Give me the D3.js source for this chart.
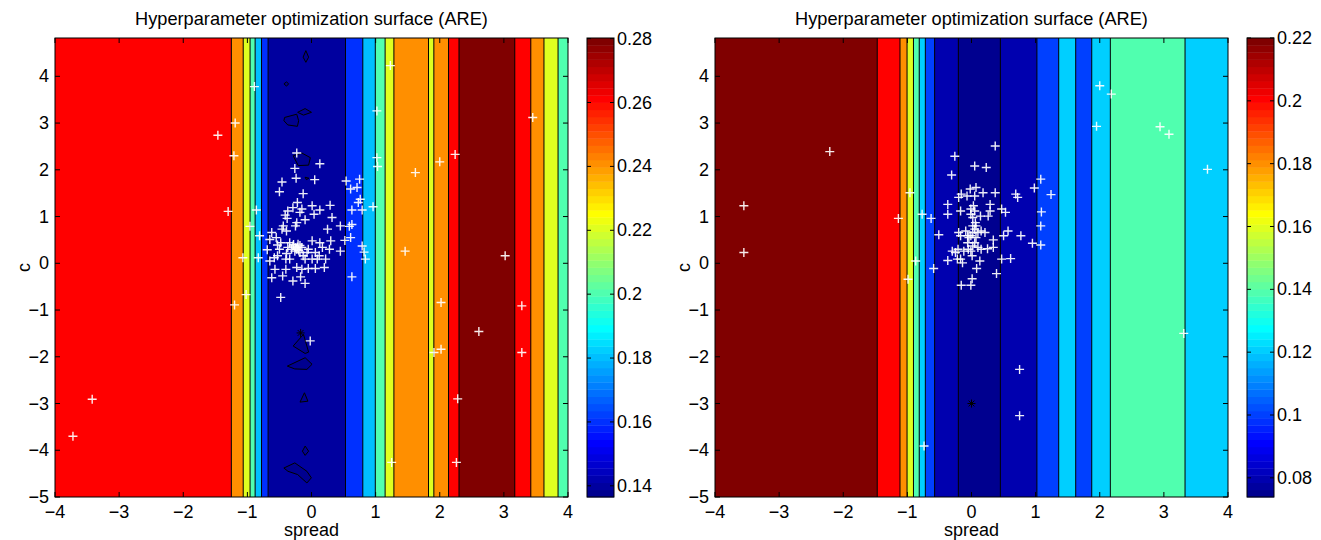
<!DOCTYPE html>
<html><head><meta charset="utf-8">
<script src="https://cdn.jsdelivr.net/npm/d3@7"></script>
<style>body{margin:0;background:#fff}svg{display:block}text{font-family:"Liberation Sans",Arial,Helvetica,sans-serif;fill:#000}</style>
</head><body><svg id="c" width="1321" height="540"></svg>
<script>
// ---------- data ----------
const spreadTicks = [-4,-3,-2,-1,0,1,2,3,4];
const cTicks = [-5,-4,-3,-2,-1,0,1,2,3,4];
const titleText = "Hyperparameter optimization surface (ARE)";

// left surface: contour crossings along spread and the ARE level of each band
const leftBreaks = [-1.25,-1.065,-0.958,-0.879,-0.779,-0.677,0.53,0.80,0.995,1.148,1.285,1.825,1.908,2.137,2.30,3.17,3.42,3.625,3.845];
const leftLevels = [0.26,0.24,0.22,0.20,0.18,0.16,0.14,0.16,0.18,0.20,0.22,0.24,0.22,0.24,0.26,0.28,0.26,0.24,0.22,0.20];
const leftClim = [0.1365,0.2802];
const leftCbTicks = [0.14,0.16,0.18,0.20,0.22,0.24,0.26,0.28];
const leftCbLabels = ["0.14","0.16","0.18","0.2","0.22","0.24","0.26","0.28"];
const leftMinLevel = 0.137;   // value inside the small closed contours (below 0.14)
const leftIslands = [
  [[-0.088,4.55],[-0.045,4.41],[-0.088,4.30],[-0.131,4.41]],
  [[-0.43,3.84],[-0.39,3.88],[-0.356,3.84],[-0.39,3.79]],
  [[-0.42,3.12],[-0.23,3.19],[-0.20,3.05],[-0.22,2.93],[-0.37,2.96],[-0.43,3.05]],
  [[-0.216,3.23],[-0.10,3.31],[0.0,3.23],[-0.125,3.17]],
  [[-0.286,2.30],[-0.152,2.36],[-0.018,2.26],[-0.045,2.10],[-0.206,2.09]],
  [[-0.10,1.84],[-0.04,1.82],[-0.08,1.79]],
  [[-0.125,-1.52],[-0.045,-1.90],[-0.099,-1.93],[-0.286,-1.77]],
  [[-0.377,-2.20],[-0.099,-2.02],[0.009,-2.16],[-0.072,-2.27],[-0.26,-2.26]],
  [[-0.179,-2.97],[-0.11,-2.77],[-0.056,-2.95]],
  [[-0.099,-3.91],[-0.045,-4.02],[-0.099,-4.11],[-0.142,-4.02]],
  [[-0.431,-4.38],[-0.26,-4.27],[-0.072,-4.45],[-0.002,-4.59],[-0.072,-4.70],[-0.216,-4.52],[-0.367,-4.45]]
];
const leftPoints = [
  [-3.72,-3.70],[-3.42,-2.91],[-1.46,2.74],[-1.19,3.00],[-1.21,2.30],[-1.30,1.11],[-1.20,-0.89],[-1.02,-0.67],
  [-1.07,0.12],[-0.96,0.79],[-0.89,3.78],[-0.86,1.14],[-0.81,0.59],[-0.83,0.12],[-0.48,-0.73],[-0.23,2.36],
  [-0.26,2.03],[-0.24,1.82],[0.13,2.13],[0.05,1.79],[-0.46,1.74],[-0.50,1.53],[-0.13,1.49],[-0.02,-1.66],
  [0.54,1.76],[0.75,1.80],[0.71,1.62],[0.61,1.59],[0.73,1.30],[0.76,1.37],[0.63,1.14],[0.79,1.14],[0.96,1.21],
  [0.59,0.79],[0.63,0.83],[0.61,0.55],[0.52,0.49],[0.79,0.37],[0.82,0.24],[0.84,0.09],[0.63,-0.29],[0.45,0.80],
  [0.45,0.26],[1.02,3.26],[1.02,2.26],[1.03,2.07],[1.23,4.23],[1.62,1.94],[1.46,0.26],[2.00,2.17],[2.02,-0.84],
  [1.91,-1.91],[2.02,-1.84],[2.24,2.33],[2.28,-2.90],[2.26,-4.26],[1.25,-4.26],[2.61,-1.46],[3.02,0.16],
  [3.28,-0.91],[3.28,-1.91],[3.45,3.12],
  [-0.46,0.73],[-0.44,0.80],[-0.39,0.69],[-0.65,0.51],[-0.62,0.66],[-0.55,0.55],[-0.53,0.39],[-0.50,0.30],
  [-0.69,0.29],[-0.65,0.05],[-0.58,0.12],[-0.53,0.16],[-0.57,-0.13],[-0.62,-0.31],[-0.45,-0.27],[-0.40,-0.13],
  [-0.40,0.09],[-0.37,0.34],[-0.34,0.44],[-0.31,0.30],[-0.29,0.37],[-0.26,0.26],[-0.23,0.30],[-0.21,0.41],
  [-0.18,0.23],[-0.15,0.34],[-0.13,0.16],[-0.10,0.09],[-0.07,0.23],[-0.05,0.30],[0.01,0.48],[0.01,0.09],
  [0.06,0.23],[0.09,0.09],[0.13,0.44],[0.17,0.34],[0.22,0.09],[0.20,-0.09],[0.30,0.48],[0.28,0.30],[0.25,0.73],
  [0.32,0.98],[0.29,1.24],[0.13,1.14],[0.01,1.23],[0.04,1.05],[-0.10,0.93],[-0.15,1.16],[-0.22,1.30],[-0.29,1.19],
  [-0.37,1.12],[-0.38,0.96],[-0.23,0.87],[-0.25,0.80],[-0.18,1.09],[-0.41,1.03],[-0.48,0.44],[-0.15,-0.13],
  [-0.23,-0.09],[-0.29,-0.38],[-0.17,-0.29],[-0.10,-0.43],[-0.05,-0.11],[0.06,-0.11],[0.12,0.16],[-0.34,0.09],
  [-0.39,0.21],[-0.22,0.35],[-0.20,0.28],[-0.25,0.33],[-0.18,0.38],[-0.28,0.40]
];
const leftBest = [-0.17,-1.49];

// right surface
const rightBreaks = [-1.47,-1.115,-1.005,-0.905,-0.815,-0.72,-0.575,-0.205,0.45,1.02,1.36,1.625,1.875,2.165,3.33];
const rightLevels = [0.22,0.20,0.18,0.16,0.14,0.12,0.10,0.08,0.075,0.08,0.10,0.12,0.10,0.12,0.14,0.12];
const rightClim = [0.0739,0.2200];
const rightCbTicks = [0.08,0.10,0.12,0.14,0.16,0.18,0.20,0.22];
const rightCbLabels = ["0.08","0.1","0.12","0.14","0.16","0.18","0.2","0.22"];
const rightPoints = [
  [-3.55,1.23],[-3.55,0.23],[-2.21,2.39],[-1.14,0.96],[-0.96,1.51],[-0.99,-0.34],[-0.87,0.05],[-0.77,1.05],
  [-0.63,0.96],[-0.74,-3.91],[-0.59,-0.11],[-0.51,0.61],[-0.37,1.26],[-0.37,1.05],[-0.37,0.06],[-0.31,1.89],
  [-0.26,2.29],[0.05,2.08],[0.23,2.05],[0.37,2.51],[0.37,1.51],[0.39,-0.22],[0.47,0.09],[0.61,0.10],[0.47,1.16],
  [0.53,1.09],[0.57,0.69],[0.50,0.59],[0.69,1.48],[0.72,1.41],[0.77,0.59],[0.75,-2.27],[0.75,-3.26],[0.95,0.43],
  [0.98,1.61],[1.08,1.80],[1.09,1.10],[1.08,0.80],[1.08,0.39],[1.24,1.47],[1.95,2.93],[2.00,3.80],[2.18,3.62],
  [2.94,2.92],[3.08,2.76],[3.31,-1.50],[3.68,2.01],
  [-0.25,0.23],[-0.21,0.30],[-0.20,0.66],[-0.17,0.59],[-0.14,0.01],[-0.17,0.09],[-0.16,-0.47],[-0.01,-0.47],
  [0.01,-0.33],[0.08,-0.11],[0.13,0.05],[0.01,0.16],[0.02,0.37],[0.05,0.44],[0.07,0.55],[0.10,0.66],[0.05,0.73],
  [0.02,0.80],[0.06,0.87],[0.02,0.98],[0.05,1.12],[0.03,1.23],[0.05,1.44],[0.07,1.62],[-0.02,1.59],[-0.07,1.44],
  [-0.16,1.48],[-0.20,1.41],[-0.17,1.12],[-0.09,0.69],[-0.06,0.44],[-0.05,0.30],[0.15,0.69],[0.21,0.66],
  [0.26,1.01],[0.29,1.12],[0.29,1.26],[0.18,1.51],[0.14,1.01],[0.34,0.50],[0.34,0.34],[0.25,0.31],[0.15,0.30],
  [-0.12,0.26],[-0.30,0.26],[-0.22,0.09],[-0.04,0.55],[-0.01,0.59],[0.02,0.66],[0.07,0.80],[-0.01,1.05],
  [-0.01,1.16],[0.10,0.34],[-0.01,0.26],[-0.06,0.59]
];
const rightBest = [0.0,-3.0];

const spreadDomain = [-4,4];
const cDomain = [-5,4.82];

// ---------- helpers ----------
function jet64(k){ // MATLAB jet(64), k = 1..64
  const r = k<=24?0 : k<=40?(k-24)/16 : k<=55?1 : (72-k)/16;
  const g = k<=8?0 : k<=24?(k-8)/16 : k<=39?1 : k<=55?(56-k)/16 : 0;
  const b = k<=8?(k+8)/16 : k<=23?1 : k<=39?(40-k)/16 : 0;
  return d3.rgb(Math.round(r*255),Math.round(g*255),Math.round(b*255)).formatHex();
}
function levelColor(v, clim){
  let k = Math.floor((v-clim[0])/(clim[1]-clim[0])*64)+1;
  k = Math.max(1, Math.min(64, k));
  return jet64(k);
}

const svg = d3.select("#c");
const plotW = 513, plotTop = 38, plotBottom = 497;
const FS = 18;

function panel(offsetX, cfg, id){
  const x0 = 55 + offsetX, x1 = x0 + plotW;
  const xs = d3.scaleLinear().domain(spreadDomain).range([x0,x1]);
  const ys = d3.scaleLinear().domain(cDomain).range([plotBottom,plotTop]);
  const g = svg.append("g");
  g.append("clipPath").attr("id","clip"+id).append("rect")
    .attr("x",x0).attr("y",plotTop).attr("width",plotW).attr("height",plotBottom-plotTop);
  const pg = g.append("g").attr("clip-path",`url(#clip${id})`);

  const edges = [spreadDomain[0], ...cfg.breaks, spreadDomain[1]];
  pg.selectAll("rect.band").data(cfg.levels).join("rect").attr("class","band")
    .attr("x",(d,i)=>xs(edges[i])).attr("width",(d,i)=>xs(edges[i+1])-xs(edges[i])+0.5)
    .attr("y",plotTop).attr("height",plotBottom-plotTop)
    .attr("fill",d=>levelColor(d,cfg.clim));
  pg.selectAll("line.ct").data(cfg.breaks).join("line").attr("class","ct")
    .attr("x1",d=>xs(d)).attr("x2",d=>xs(d)).attr("y1",plotTop).attr("y2",plotBottom)
    .attr("stroke","#000").attr("stroke-width",1);
  if(cfg.islands){
    const line = d3.line().x(d=>xs(d[0])).y(d=>ys(d[1])).curve(d3.curveLinearClosed);
    pg.selectAll("path.isl").data(cfg.islands).join("path").attr("class","isl")
      .attr("d",line).attr("fill",levelColor(cfg.minLevel,cfg.clim))
      .attr("stroke","#000").attr("stroke-width",1);
  }
  pg.selectAll("path.pt").data(cfg.points).join("path").attr("class","pt")
    .attr("transform",d=>`translate(${xs(d[0])},${ys(d[1])})`)
    .attr("d","M-4.5,0H4.5M0,-4.5V4.5").attr("stroke","#fff").attr("stroke-width",1.4)
    .attr("stroke-opacity",0.92).attr("fill","none");
  pg.append("path").attr("transform",`translate(${xs(cfg.best[0])},${ys(cfg.best[1])})`)
    .attr("d","M-4,0H4M0,-4V4M-2.9,-2.9L2.9,2.9M-2.9,2.9L2.9,-2.9")
    .attr("stroke","#000").attr("stroke-width",1).attr("fill","none");

  g.append("rect").attr("x",x0).attr("y",plotTop).attr("width",plotW).attr("height",plotBottom-plotTop)
    .attr("fill","none").attr("stroke","#000").attr("stroke-width",1);
  const tl = 5;
  g.selectAll("path.xt").data(spreadTicks).join("path").attr("class","xt")
    .attr("d",d=>`M${xs(d)},${plotBottom}v${-tl}M${xs(d)},${plotTop}v${tl}`)
    .attr("stroke","#000").attr("stroke-width",1);
  g.selectAll("path.yt").data(cTicks).join("path").attr("class","yt")
    .attr("d",d=>`M${x0},${ys(d)}h${tl}M${x1},${ys(d)}h${-tl}`)
    .attr("stroke","#000").attr("stroke-width",1);
  const fmt = v => v<0 ? "\u2212"+Math.abs(v) : String(v);
  g.selectAll("text.xl").data(spreadTicks).join("text").attr("class","xl")
    .attr("x",d=>xs(d)).attr("y",518).attr("text-anchor","middle").attr("font-size",FS).text(fmt);
  g.selectAll("text.yl").data(cTicks).join("text").attr("class","yl")
    .attr("x",x0-6).attr("y",d=>ys(d)+6).attr("text-anchor","end").attr("font-size",FS).text(fmt);
  g.append("text").attr("x",(x0+x1)/2).attr("y",536).attr("text-anchor","middle").attr("font-size",FS).text("spread");
  g.append("text").attr("transform",`translate(${x0-25},${(plotTop+plotBottom)/2}) rotate(-90)`)
    .attr("text-anchor","middle").attr("font-size",FS).text("c");
  g.append("text").attr("x",(x0+x1)/2).attr("y",25).attr("text-anchor","middle").attr("font-size",18.2).text(titleText);

  const cx0 = x1 + 19, cw = 27;
  const cs = d3.scaleLinear().domain(cfg.clim).range([plotBottom,plotTop]);
  const steps = d3.range(64);
  const cstep = (cfg.clim[1]-cfg.clim[0])/64;
  g.selectAll("rect.cb").data(steps).join("rect").attr("class","cb")
    .attr("x",cx0).attr("width",cw)
    .attr("y",d=>cs(cfg.clim[0]+(d+1)*cstep)).attr("height",d=>cs(cfg.clim[0]+d*cstep)-cs(cfg.clim[0]+(d+1)*cstep)+0.4)
    .attr("fill",d=>jet64(d+1));
  g.append("rect").attr("x",cx0).attr("y",plotTop).attr("width",cw).attr("height",plotBottom-plotTop)
    .attr("fill","none").attr("stroke","#000").attr("stroke-width",1);
  g.selectAll("path.ct2").data(cfg.cbTicks).join("path").attr("class","ct2")
    .attr("d",d=>`M${cx0+cw},${cs(d)}h-4M${cx0},${cs(d)}h4`).attr("stroke","#000").attr("stroke-width",1);
  g.selectAll("text.cl").data(cfg.cbTicks).join("text").attr("class","cl")
    .attr("x",cx0+cw+3).attr("y",d=>cs(d)+6).attr("font-size",FS)
    .text((d,i)=>cfg.cbLabels[i]);
}

panel(0,{breaks:leftBreaks,levels:leftLevels,clim:leftClim,cbTicks:leftCbTicks,cbLabels:leftCbLabels,
  points:leftPoints,best:leftBest,islands:leftIslands,minLevel:leftMinLevel},"L");
panel(660,{breaks:rightBreaks,levels:rightLevels,clim:rightClim,cbTicks:rightCbTicks,cbLabels:rightCbLabels,
  points:rightPoints,best:rightBest},"R");
</script></body></html>
